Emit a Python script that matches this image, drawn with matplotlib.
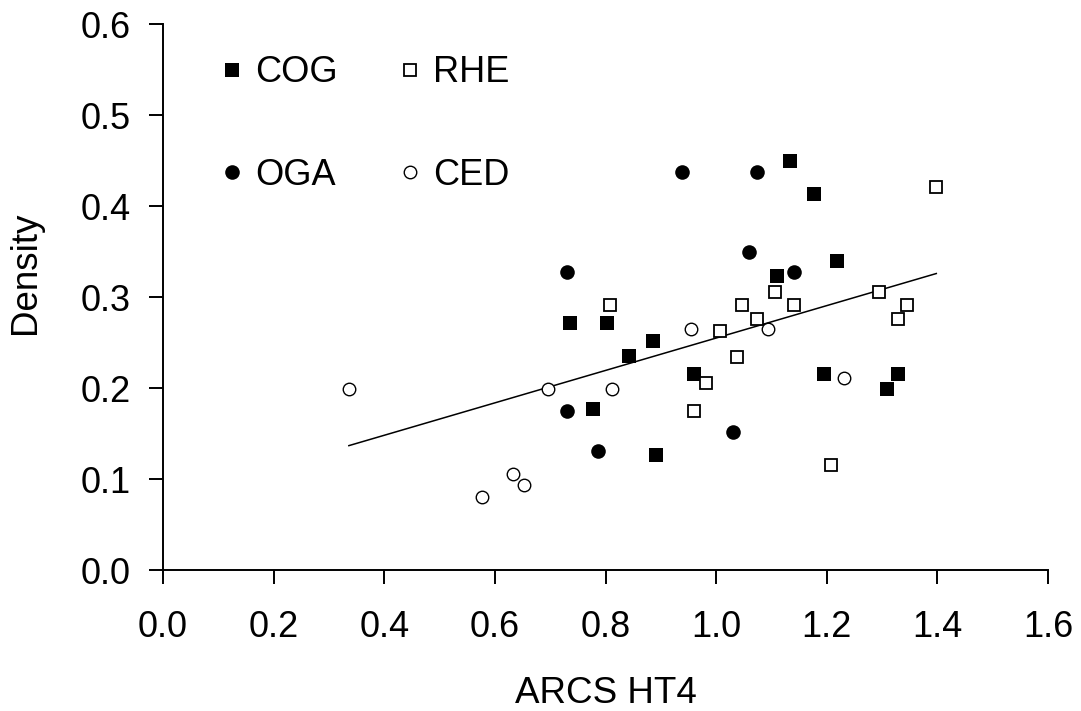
import numpy as np
import matplotlib
matplotlib.use('Agg')
import matplotlib.pyplot as plt

plt.rcParams['font.family'] = ['Liberation Sans', 'DejaVu Sans']

# values
cog_x = [1.133, 1.176, 1.219, 1.110, 0.736, 0.802, 0.885, 0.843, 0.960, 1.195, 1.328, 1.308, 0.777, 0.891]
cog_y = [0.449, 0.413, 0.340, 0.323, 0.271, 0.271, 0.252, 0.235, 0.215, 0.215, 0.215, 0.199, 0.177, 0.126]
rhe_x = [1.398, 1.106, 1.295, 0.808, 1.047, 1.140, 1.345, 1.073, 1.328, 1.007, 1.037, 0.981, 0.960, 1.208]
rhe_y = [0.421, 0.306, 0.306, 0.291, 0.291, 0.291, 0.291, 0.276, 0.276, 0.263, 0.234, 0.205, 0.175, 0.115]
oga_x = [0.938, 1.073, 1.060, 0.730, 1.140, 0.730, 1.030, 0.786]
oga_y = [0.437, 0.437, 0.350, 0.327, 0.327, 0.175, 0.152, 0.131]
ced_x = [0.336, 0.576, 0.632, 0.652, 0.696, 0.812, 0.954, 1.094, 1.232]
ced_y = [0.199, 0.080, 0.106, 0.093, 0.199, 0.199, 0.265, 0.265, 0.211]

xticks = [0.0, 0.2, 0.4, 0.6, 0.8, 1.0, 1.2, 1.4, 1.6]
yticks = [0.0, 0.1, 0.2, 0.3, 0.4, 0.5, 0.6]

fig = plt.figure(figsize=(10.81, 7.11), dpi=100)
ax = fig.add_axes([0.1508, 0.1983, 0.8187, 0.7679])

h_cog, = ax.plot(cog_x, cog_y, 's', ms=10.5, mfc='black', mec='black', mew=0, zorder=3)
h_oga, = ax.plot(oga_x, oga_y, 'o', ms=10.5, mfc='black', mec='black', mew=0, zorder=3)
h_rhe, = ax.plot(rhe_x, rhe_y, 's', ms=9.3, mfc='white', mec='black', mew=1.3, zorder=3)
h_ced, = ax.plot(ced_x, ced_y, 'o', ms=9.0, mfc='white', mec='black', mew=1.0, zorder=3)

# linear trendline over all points
all_x = np.array(cog_x + rhe_x + oga_x + ced_x)
all_y = np.array(cog_y + rhe_y + oga_y + ced_y)
slope, intercept = np.polyfit(all_x, all_y, 1)
lx = np.array([all_x.min(), all_x.max()])
ax.plot(lx, slope * lx + intercept, color='black', lw=1.1, zorder=2)

ax.set_xlim(0, 1.6)
ax.set_ylim(0, 0.6)
ax.set_xticks(xticks)
ax.set_yticks(yticks)
ax.set_xticklabels(['%.1f' % v for v in xticks])
ax.set_yticklabels(['%.1f' % v for v in yticks])
ax.tick_params(axis='both', labelsize=26, length=10, width=1.4, direction='out')
ax.tick_params(axis='x', pad=19)
ax.tick_params(axis='y', pad=13)

for side in ['top', 'right']:
    ax.spines[side].set_visible(False)
for side in ['left', 'bottom']:
    ax.spines[side].set_linewidth(1.4)

ax.set_xlabel('ARCS HT4', fontsize=26.5)
ax.set_ylabel('Density', fontsize=26.5)
ax.xaxis.set_label_coords(0.5, -0.195)
ax.yaxis.set_label_coords(-0.136, 0.544)

ax.legend([h_cog, h_oga, h_rhe, h_ced], ['COG', 'OGA', 'RHE', 'CED'],
          ncol=2, frameon=False, fontsize=26, loc='upper left',
          bbox_to_anchor=(0.066, 0.943), borderpad=0, borderaxespad=0,
          handlelength=0.6, handletextpad=0.34, columnspacing=1.69,
          labelspacing=1.87, numpoints=1)

fig.savefig('out.png', dpi=100, facecolor='white')
